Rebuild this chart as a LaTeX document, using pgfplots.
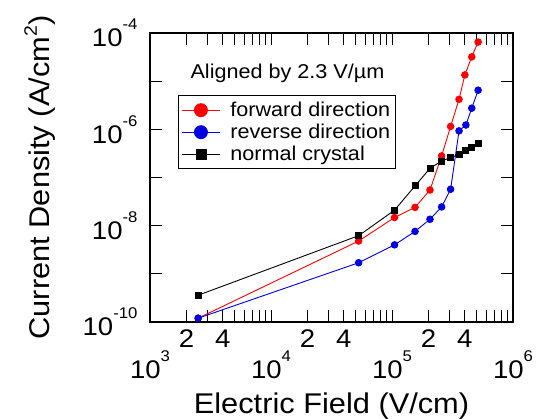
\documentclass[border=0pt]{standalone}
\usepackage{fontspec}
\setmainfont{Liberation Sans}[FakeStretch=1.08]
\usepackage{pgfplots}
\pgfplotsset{compat=1.18}

\definecolor{fwd}{RGB}{255,0,0}
\definecolor{rev}{RGB}{0,0,225}
% 10 with a raised exponent, in the text font
\newcommand{\tenp}[1]{10\raisebox{17pt}{\fontsize{15.5}{16}\selectfont #1}}

\begin{document}
\begin{tikzpicture}
\path[use as bounding box] (-150pt,-96pt) rectangle (387pt,322pt);
\begin{axis}[
    scale only axis,
    width=363pt, height=289pt,
    xmode=log, ymode=log,
    xmin=1e3, xmax=1e6,
    ymin=1e-10, ymax=1e-4,
    clip=false,
    xtick={1e3,1e4,1e5,1e6},
    xticklabels={\tenp{3},\tenp{4},\tenp{5},\tenp{6}},
    extra x ticks={2e3,4e3,2e4,4e4,2e5,4e5},
    extra x tick labels={2,4,2,4,2,4},
    extra x tick style={tick label style={font=\fontsize{15.5}{17}\selectfont, yshift=21pt}},
    ytick={1e-10,1e-9,1e-8,1e-7,1e-6,1e-5,1e-4},
    yticklabels={\tenp{-10},{},\tenp{-8},{},\tenp{-6},{},\tenp{-4}},
    yminorticks=false,
    major tick length=12pt, minor tick length=12pt,
    tick style={black, line width=0.9pt},
    axis line style={black, line width=1.3pt},
    x tick label style={font=\fontsize{25.5}{28}\selectfont, yshift=-25pt},
    y tick label style={font=\fontsize{25.5}{28}\selectfont, xshift=-9pt},
    xlabel={Electric Field (V/cm)},
    ylabel={Current Density (A/cm\raisebox{13pt}{\fontsize{18}{18}\selectfont 2})},
    xlabel style={font=\fontsize{28.5}{30}\selectfont, at={(axis description cs:0.5,-0.3155)}, anchor=base},
    ylabel style={font=\fontsize{28.5}{30}\selectfont, at={(axis description cs:-0.2755,0.5)}, anchor=base, rotate=0},
    legend style={at={(rel axis cs:0.077,0.785)}, anchor=north west,
        font=\fontsize{20}{22}\selectfont, draw=black, line width=1.1pt,
        inner xsep=3pt, inner ysep=4.5pt, row sep=2pt,
        /tikz/every odd column/.append style={column sep=8pt}},
    legend cell align=left,
    legend image code/.code={
        \draw[#1, mark repeat=2, mark phase=2] plot coordinates {(0pt,0pt) (19pt,0pt) (38pt,0pt)};
    },
    every axis plot/.append style={line width=0.9pt},
]
\addplot[fwd, mark=*, mark size=3.3pt, legend image post style={mark size=6.5pt}] coordinates {
    (2.5e3,1.2e-10) (5.3e4,4.8e-9) (1.05e5,1.48e-8) (1.55e5,2.4e-8)
    (2.06e5,5.5e-8) (2.57e5,2.8e-7) (3.05e5,1.15e-6) (3.58e5,4.2e-6)
    (4.0e5,1.35e-5) (4.56e5,3.2e-5) (5.15e5,6.5e-5)
};
\addplot[rev, mark=*, mark size=3.3pt, legend image post style={mark size=6.5pt}] coordinates {
    (2.5e3,1.2e-10) (5.3e4,1.7e-9) (1.05e5,4.0e-9) (1.55e5,7.6e-9)
    (2.06e5,1.36e-8) (2.57e5,2.45e-8) (3.05e5,5.7e-8) (3.58e5,9.3e-7)
    (4.08e5,1.23e-6) (4.56e5,2.75e-6) (5.15e5,6.5e-6)
};
\addplot[black, mark=square*, mark size=3pt, legend image post style={mark size=5pt}] coordinates {
    (2.5e3,3.6e-10) (5.3e4,6.2e-9) (1.05e5,2.1e-8) (1.55e5,6.7e-8)
    (2.06e5,1.55e-7) (2.57e5,2.2e-7) (3.05e5,2.6e-7) (3.58e5,3.0e-7)
    (4.08e5,3.7e-7) (4.56e5,4.3e-7) (5.15e5,5.1e-7)
};
\legend{forward direction, reverse direction, normal crystal}
\node[anchor=base west, font=\fontsize{20}{22}\selectfont] at (rel axis cs:0.102,0.844) {Aligned by 2.3 V/µm};
\end{axis}
\end{tikzpicture}
\end{document}
